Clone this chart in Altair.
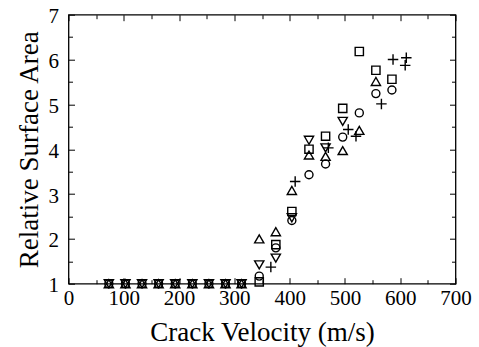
import altair as alt
import pandas as pd

# ---- data ----
circle_x = [73, 103, 133, 163, 193, 224, 254, 284, 313, 345, 375, 404, 435, 465, 496, 526, 556, 585]
circle_y = [1.0, 1.0, 1.0, 1.0, 1.0, 1.0, 1.0, 1.0, 1.0, 1.17, 1.80, 2.41, 3.43, 3.67, 4.27, 4.81, 5.24, 5.32]

square_x = [345, 375, 404, 435, 465, 496, 526, 556, 585]
square_y = [1.04, 1.87, 2.61, 4.00, 4.29, 4.91, 6.18, 5.76, 5.56]

tri_up_x = [73, 103, 133, 163, 193, 224, 254, 284, 313, 345, 375, 404, 435, 465, 496, 526, 556]
tri_up_y = [1.0, 1.0, 1.0, 1.0, 1.0, 1.0, 1.0, 1.0, 1.0, 2.00, 2.16, 3.08, 3.87, 3.84, 3.97, 4.42, 5.51]

tri_dn_x = [73, 103, 133, 163, 193, 224, 254, 284, 313, 345, 375, 404, 435, 465, 496]
tri_dn_y = [1.0, 1.0, 1.0, 1.0, 1.0, 1.0, 1.0, 1.0, 1.0, 1.42, 1.57, 2.47, 4.20, 4.03, 4.62]

plus_x = [366, 410, 470, 506, 520, 566, 587, 609, 611]
plus_y = [1.37, 3.28, 4.03, 4.44, 4.29, 5.01, 6.00, 5.87, 6.04]

x_major = [0, 100, 200, 300, 400, 500, 600, 700]
x_minor = [50, 150, 250, 350, 450, 550, 650]
y_major = [1, 2, 3, 4, 5, 6, 7]
y_minor = [1.5, 2.5, 3.5, 4.5, 5.5, 6.5]

FONT = "Liberation Serif"
W, H = 387, 269
MAJ, MIN = 6, 4

xscale = alt.Scale(domain=[0, 700], nice=False, zero=False)
yscale = alt.Scale(domain=[1, 7], nice=False, zero=False)


def tick_axis(orient, values, size, labels=False, title=None, **kw):
    args = dict(orient=orient, values=values, tickSize=size, offset=-size,
                domain=False, grid=False, labels=labels, tickColor="black",
                tickWidth=1)
    if title is not None:
        args.update(title=title, titleFont=FONT, titleFontSize=27,
                    titleFontWeight="normal", titleColor="black")
    else:
        args.update(title=None)
    args.update(kw)
    return alt.Axis(**args)


ax_bottom = tick_axis("bottom", x_major, MAJ, labels=True, title="Crack Velocity (m/s)",
                      labelFont=FONT, labelFontSize=21, labelColor="black",
                      labelPadding=3.5, labelFlush=False, labelOverlap=False,
                      labelBound=False, titleBaseline="alphabetic",
                      titleY=340 - (283.5 - MAJ), titleX=W / 2)
ax_left = tick_axis("left", y_major, MAJ, labels=True, title="Relative Surface Area",
                    labelFont=FONT, labelFontSize=21, labelColor="black",
                    labelPadding=10, labelFlush=False, labelOverlap=False,
                    labelBound=False, labelOffset=2, titleBaseline="alphabetic",
                    titleAngle=270, titleX=37 - (68.5 + MAJ), titleY=H / 2)
ax_bottom_min = tick_axis("bottom", x_minor, MIN)
ax_left_min = tick_axis("left", y_minor, MIN)
ax_top = tick_axis("top", x_major, MAJ)
ax_right = tick_axis("right", y_major, MAJ)
ax_top_min = tick_axis("top", x_minor, MIN)
ax_right_min = tick_axis("right", y_minor, MIN)


def layer(xs, ys, shape, size, xaxis, yaxis):
    df = pd.DataFrame({"v": xs, "a": ys})
    return alt.Chart(df).mark_point(
        shape=shape, filled=False, color="black", size=size,
        strokeWidth=1.4, opacity=1
    ).encode(
        x=alt.X("v:Q", scale=xscale, axis=xaxis),
        y=alt.Y("a:Q", scale=yscale, axis=yaxis),
    )


c1 = layer(circle_x, circle_y, "circle", 64, ax_bottom, ax_left)
c2 = layer(square_x, square_y, "square", 68, ax_bottom_min, ax_left_min)
c3 = layer(tri_up_x, tri_up_y, "triangle-up", 85, ax_top, ax_right)
c4 = layer(tri_dn_x, tri_dn_y, "triangle-down", 85, ax_top_min, ax_right_min)
c5 = layer(plus_x, plus_y, "M-1,0H1M0,-1V1", 110, None, None)

chart = alt.layer(c1, c2, c3, c4, c5).resolve_axis(
    x="independent", y="independent"
).properties(
    width=W, height=H,
    padding={"left": 68.5, "top": 14.7, "right": 479 - 68.5 - W, "bottom": 347 - 14.7 - H},
    autosize=alt.AutoSizeParams(type="none"),
    background="white",
).configure_view(
    stroke="black", strokeWidth=1.3
).configure_axis(
    labelFont=FONT, labelFontSize=21, labelColor="black",
    titleFont=FONT, titleFontSize=27, titleFontWeight="normal", titleColor="black"
)

chart.save("out.html", embed_options={"renderer": "svg", "actions": False})
